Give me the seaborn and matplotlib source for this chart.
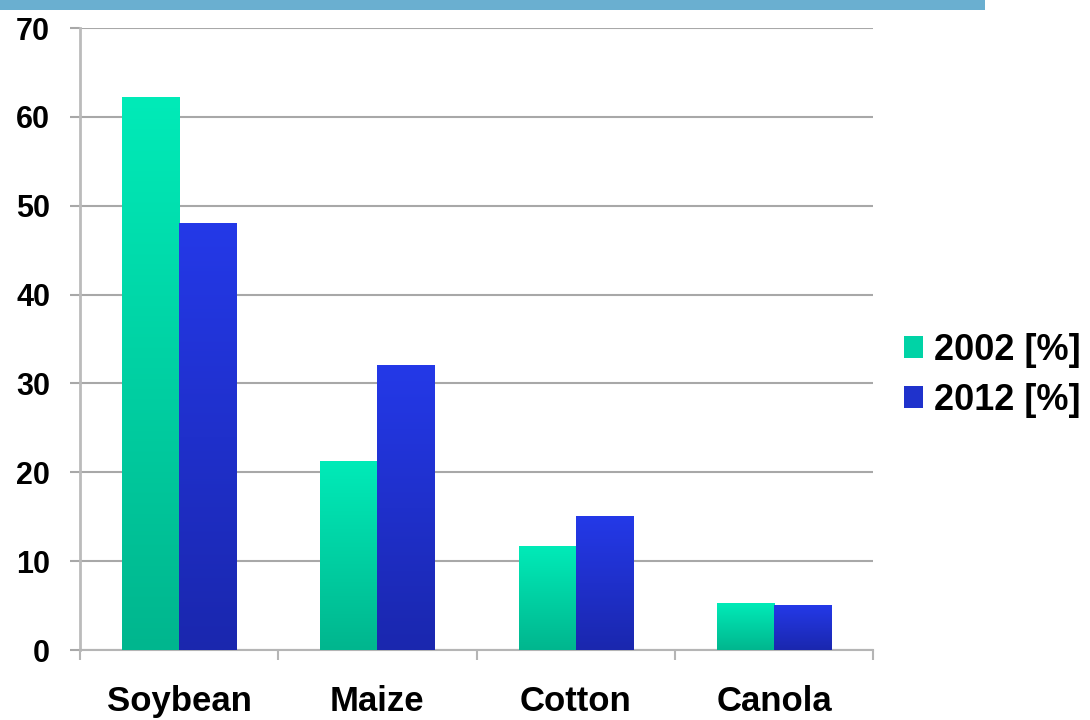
import numpy as np
import pandas as pd
import matplotlib
matplotlib.use("Agg")
import matplotlib.pyplot as plt
import seaborn as sns
from matplotlib.colors import LinearSegmentedColormap
from matplotlib.patches import Rectangle

categories = ["Soybean", "Maize", "Cotton", "Canola"]
series_names = ["2002 [%]", "2012 [%]"]
values_2002 = [62.2, 21.2, 11.7, 5.2]
values_2012 = [48.0, 32.0, 15.0, 5.0]
y_ticks = [0, 10, 20, 30, 40, 50, 60, 70]

top_colors = ["#00EBB8", "#2439E8"]
bottom_colors = ["#00B68E", "#1A27AE"]

df = pd.DataFrame({
    "crop": categories * 2,
    "series": [series_names[0]] * 4 + [series_names[1]] * 4,
    "value": values_2002 + values_2012,
})

sns.set_theme(style="white")
plt.rcParams["font.family"] = ["Liberation Sans", "DejaVu Sans"]
plt.rcParams["font.weight"] = "bold"
plt.rcParams["text.color"] = "black"
plt.rcParams["xtick.labelcolor"] = "black"
plt.rcParams["ytick.labelcolor"] = "black"

fig = plt.figure(figsize=(10.9, 7.2), dpi=100)
ax = fig.add_axes([0.0734, 0.0972, 0.7276, 0.8638])

sns.barplot(data=df, x="crop", y="value", hue="series", order=categories,
            hue_order=series_names, palette=[t for t in top_colors],
            width=0.576, gap=0, ax=ax, legend=False, zorder=3)

# gradient fill per bar
ncat = len(categories)
for i, patch in enumerate(ax.patches):
    s = i // ncat
    x, y = patch.get_x(), patch.get_y()
    w, h = patch.get_width(), patch.get_height()
    cmap = LinearSegmentedColormap.from_list("g%d" % s, [bottom_colors[s], top_colors[s]])
    grad = np.linspace(0, 1, 256).reshape(-1, 1)
    ax.imshow(grad, extent=[x, x + w, y, y + h], origin="lower", aspect="auto",
              cmap=cmap, zorder=3.5, interpolation="bilinear")
    patch.set_edgecolor("none")

ax.set_xlim(-0.5, ncat - 0.5)
ax.set_ylim(0, 70)
ax.set_yticks(y_ticks)
ax.set_yticklabels([str(t) for t in y_ticks], fontsize=22, fontweight="bold", color="black")
ax.set_xticks(range(ncat))
ax.set_xticklabels(categories, fontsize=25, fontweight="bold", color="black")
ax.set_xticks(np.arange(-0.5, ncat, 1.0), minor=True)
ax.tick_params(axis="x", which="major", length=0, pad=25)
ax.tick_params(axis="x", which="minor", length=7.5, width=1.5, color="#B5B5B5", direction="out", bottom=True)
ax.tick_params(axis="y", which="major", length=7.5, width=1.5, color="#A8A8A8", direction="out", pad=14, left=True)
ax.set_xlabel("")
ax.set_ylabel("")

ax.yaxis.grid(True, color="#A8A8A8", linewidth=1.5, zorder=0)
ax.xaxis.grid(False)
ax.set_axisbelow(True)
for side in ["top", "right"]:
    ax.spines[side].set_visible(False)
ax.spines["left"].set_color("#BBBBBB")
ax.spines["left"].set_linewidth(2)
ax.spines["bottom"].set_color("#B5B5B5")
ax.spines["bottom"].set_linewidth(1.5)

# legend
mid = ["#00D3A6", "#1F32CC"]
handles = [Rectangle((0, 0), 1, 1, facecolor=mid[k], edgecolor="none") for k in range(2)]
fig.legend(handles, series_names, loc="center left", bbox_to_anchor=(0.829, 0.479),
           frameon=False, prop={"size": 26, "weight": "bold"},
           handlelength=0.55, handleheight=0.55, handletextpad=0.3,
           labelspacing=0.42, borderpad=0, borderaxespad=0)

# top decorative band
fig.patches.append(Rectangle((0, 1 - 10 / 720), 985 / 1090, 10 / 720,
                             transform=fig.transFigure, facecolor="#6AAFD0",
                             edgecolor="none", zorder=5))

fig.savefig("out.png", dpi=100)
